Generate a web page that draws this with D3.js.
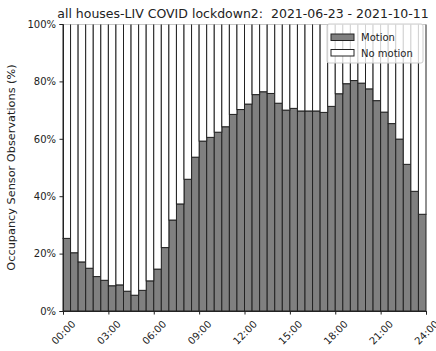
<!DOCTYPE html>
<html>
<head>
<meta charset="utf-8">
<script src="https://cdn.jsdelivr.net/npm/d3@7"></script>
<style>
  html, body { margin: 0; padding: 0; background: #fff; }
  svg { display: block; }
  text { font-family: "DejaVu Sans", sans-serif; fill: #222; }
</style>
</head>
<body>
<svg id="chart" width="436" height="351"></svg>
<script>
// Half-hourly share of occupancy sensor observations with motion (%)
const slotStarts = d3.range(48).map(i => i * 0.5);
const motionPct = [
  25.3, 20.3, 17.1, 14.9, 12.0, 10.7, 8.8, 9.1, 6.9, 5.5, 7.2, 10.5,
  14.6, 22.1, 31.7, 37.3, 45.9, 53.6, 59.2, 60.5, 62.3, 64.2, 68.5, 70.2,
  72.1, 75.4, 76.4, 75.8, 72.4, 70.0, 70.6, 69.7, 69.7, 69.7, 69.2, 71.3,
  75.7, 79.2, 80.3, 79.4, 77.4, 73.3, 69.3, 65.3, 59.9, 51.1, 41.7, 33.7
];
const xTickHours = [0, 3, 6, 9, 12, 15, 18, 21, 24];
const xTickLabels = ["00:00", "03:00", "06:00", "09:00", "12:00", "15:00", "18:00", "21:00", "24:00"];
const yTicks = [0, 20, 40, 60, 80, 100];
const seriesNames = ["Motion", "No motion"];
const seriesColors = ["#808080", "#ffffff"];
const titleText = "all houses-LIV COVID lockdown2:  2021-06-23 - 2021-10-11";
const yLabelText = "Occupancy Sensor Observations (%)";

const svg = d3.select("#chart");
const plot = { left: 63, right: 426, top: 24, bottom: 311 };

const x = d3.scaleLinear().domain([0, 24]).range([plot.left, plot.right]);
const y = d3.scaleLinear().domain([0, 100]).range([plot.bottom, plot.top]);

const rows = slotStarts.map((h, i) => ({ h, motion: motionPct[i], none: 100 - motionPct[i] }));
const stacked = d3.stack().keys(["motion", "none"])(rows);

svg.append("defs").append("clipPath").attr("id", "plotClip")
  .append("rect")
  .attr("x", plot.left - 1).attr("y", plot.top + 0.6)
  .attr("width", plot.right - plot.left + 2).attr("height", plot.bottom - plot.top);

const barsG = svg.append("g").attr("clip-path", "url(#plotClip)");
stacked.forEach((layer, k) => {
  barsG.append("g").selectAll("rect")
    .data(layer)
    .join("rect")
    .attr("x", d => x(d.data.h))
    .attr("width", d => x(d.data.h + 0.5) - x(d.data.h))
    .attr("y", d => y(d[1]))
    .attr("height", d => y(d[0]) - y(d[1]))
    .attr("fill", seriesColors[k])
    .attr("stroke", "#222")
    .attr("stroke-width", 1);
});

// Axes
const yAxis = d3.axisLeft(y).tickValues(yTicks).tickFormat(d => d + "%").tickSizeOuter(0).tickSize(3.5).tickPadding(3.5);
const gy = svg.append("g").attr("transform", `translate(${plot.left},0)`).call(yAxis);
gy.selectAll("text").style("font-size", "10px").style("font-family", "DejaVu Sans").attr("fill", "#222");
gy.selectAll("line, path").attr("stroke", "#222");

const xAxis = d3.axisBottom(x).tickValues(xTickHours).tickFormat((d, i) => xTickLabels[i]).tickSizeOuter(0).tickSize(3.5);
const gx = svg.append("g").attr("transform", `translate(0,${plot.bottom})`).call(xAxis);
gx.selectAll("line, path").attr("stroke", "#222");
gx.selectAll("text")
  .style("font-size", "10px").style("font-family", "DejaVu Sans").attr("fill", "#222")
  .attr("text-anchor", "middle")
  .attr("dy", null)
  .attr("y", 0)
  .attr("transform", "translate(0,21.5) rotate(-45)")
  .attr("dominant-baseline", "central");

// Title and axis label
svg.append("text")
  .attr("x", 243).attr("y", 18)
  .attr("text-anchor", "middle")
  .style("font-size", "12.5px")
  .style("white-space", "pre")
  .text(titleText);

svg.append("text")
  .attr("transform", `translate(15,${(plot.top + plot.bottom) / 2}) rotate(-90)`)
  .attr("text-anchor", "middle")
  .style("font-size", "11.3px")
  .text(yLabelText);

// Legend
const lg = svg.append("g").attr("transform", "translate(327,24)");
lg.append("rect")
  .attr("width", 96).attr("height", 39).attr("rx", 2)
  .attr("fill", "#fff").attr("fill-opacity", 0.8)
  .attr("stroke", "#ccc").attr("stroke-width", 1);
seriesNames.forEach((name, i) => {
  const row = lg.append("g").attr("transform", `translate(4,${10 + i * 15.5})`);
  row.append("rect")
    .attr("width", 23).attr("height", 6.5)
    .attr("fill", seriesColors[i]).attr("stroke", "#222").attr("stroke-width", 1);
  row.append("text")
    .attr("x", 30).attr("y", 3.5)
    .attr("dominant-baseline", "central")
    .style("font-size", "10px")
    .text(name);
});
</script>
</body>
</html>
